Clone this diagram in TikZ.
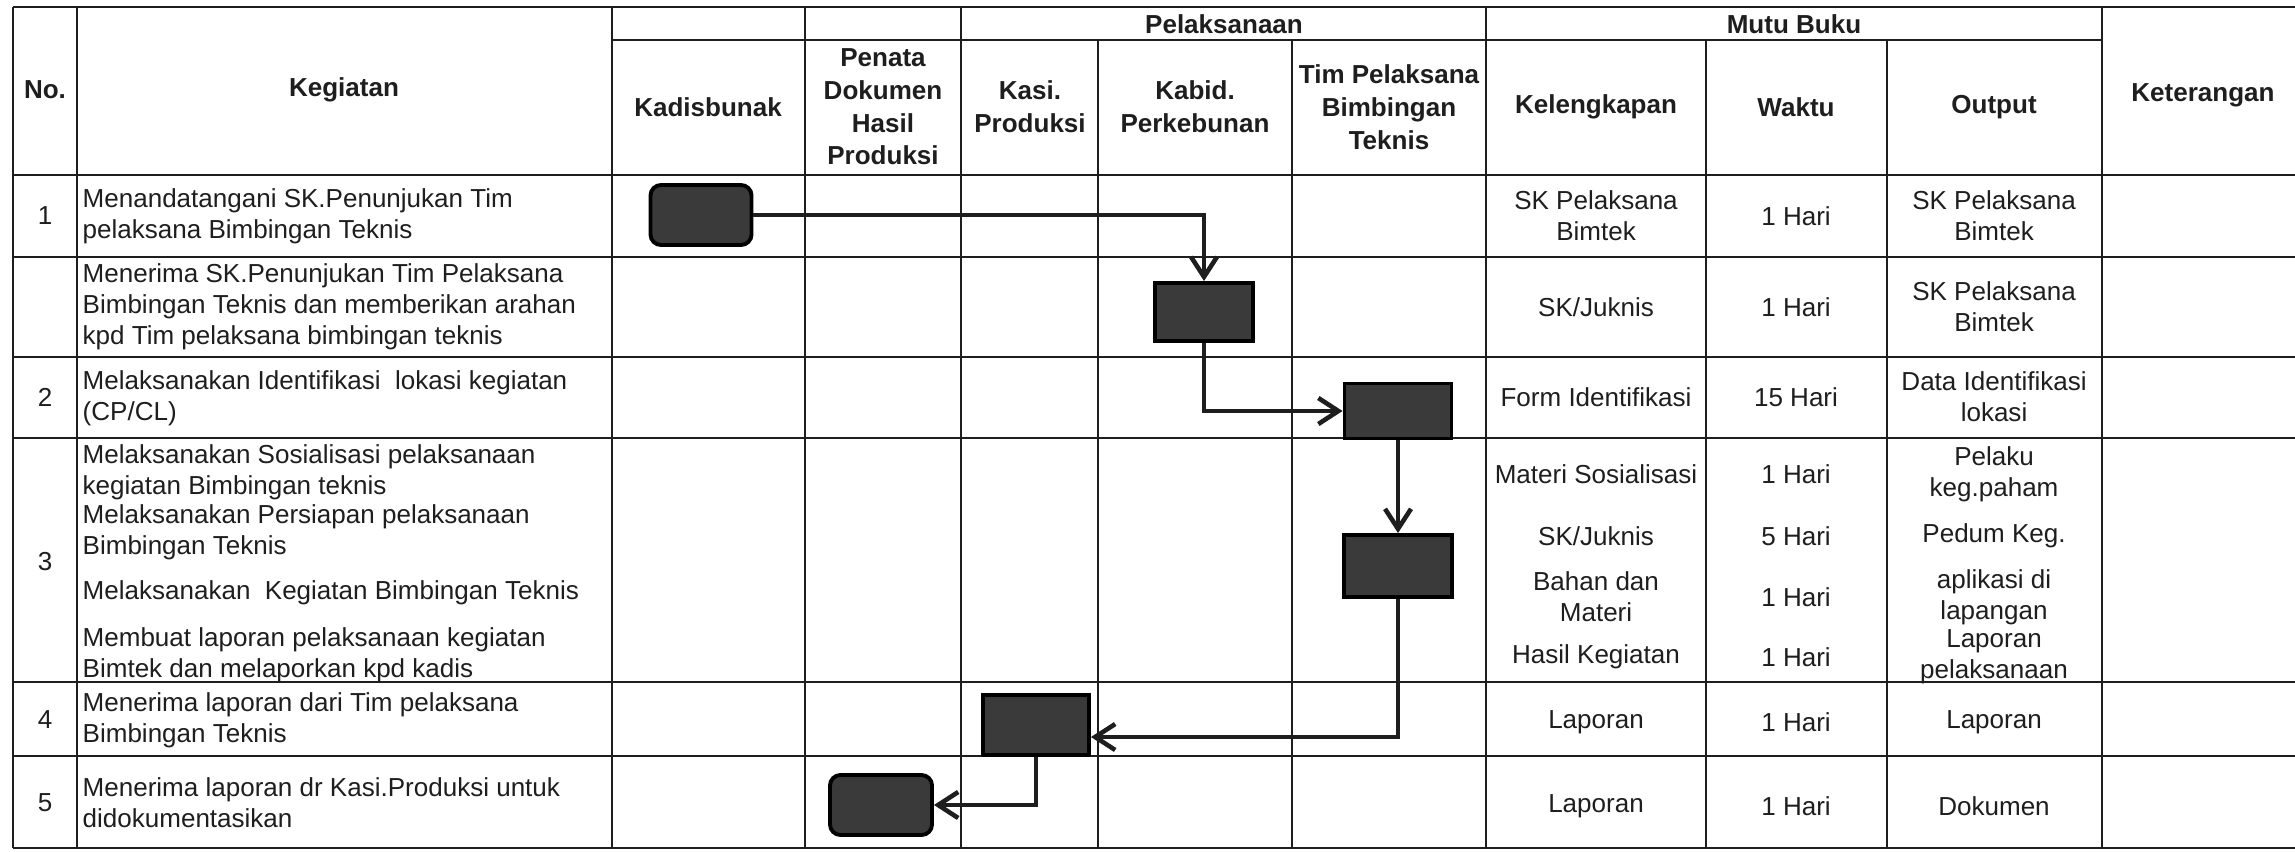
\documentclass[tikz,border=0pt]{standalone}
\usepackage{fontspec}
\setmainfont{Liberation Sans}
\usetikzlibrary{arrows.meta,positioning,calc}
\definecolor{Ink}{HTML}{1E1E1E}
\definecolor{Block}{HTML}{3A3A3A}

\begin{document}
\begin{tikzpicture}[x=0.01cm,y=-0.01cm,
    grid/.style={draw=Ink,line width=0.6pt},
    act/.style={draw=black,fill=Block,line width=1.1pt,inner sep=0pt},
    arr/.style={-{Straight Barb[length=2mm,width=2.6mm]},line width=1.3pt,draw=Ink},
    head/.style={font=\fontsize{7.4}{9.3}\selectfont\bfseries,text=Ink,align=center,inner sep=0pt},
    txt/.style={font=\fontsize{7.4}{8.8}\selectfont,text=Ink,align=center,inner sep=0pt},
    keg/.style={font=\fontsize{7.4}{8.8}\selectfont,text=Ink,align=left,anchor=west,inner sep=0pt}
  ]
    \useasboundingbox[fill=white] (0,0) rectangle (2295,852);
    % table rules
    \foreach \y in {7,175,257,357,438,682,756,848}
      \draw[grid] (13,\y) -- (2295,\y);
    \draw[grid] (612,40) -- (2102,40);
    \foreach \x in {13,77,612,805,961,1486,2102}
      \draw[grid] (\x,7) -- (\x,848);
    \foreach \x in {1098,1292,1706,1887}
      \draw[grid] (\x,40) -- (\x,848);

    % header
    \node[head] (hno) at (45,90) {No.};
    \node[head] (hkeg) at (344,90) {Kegiatan};
    \node[head] (hpel) at (1224,24) {Pelaksanaan};
    \node[head] (hmutu) at (1794,24) {Mutu Buku};
    \node[head] (hket) at (2203,95) {Keterangan};
    \node[head] (hkadis) at (708,107) {Kadisbunak};
    \node[head] (hpenata) at (883,107) {Penata\\Dokumen\\Hasil\\Produksi};
    \node[head] (hkasi) at (1030,107) {Kasi.\\Produksi};
    \node[head] (hkabid) at (1195,107) {Kabid.\\Perkebunan};
    \node[head] (htim) at (1389,107) {Tim Pelaksana\\Bimbingan\\Teknis};
    \node[head] (hkel) at (1596,107) {Kelengkapan};
    \node[head] (hwkt) at (1796,107) {Waktu};
    \node[head] (hout) at (1994,107) {Output};

    % numbers and activities
    \foreach \n/\y in {1/216,2/397,3/562,4/720,5/803}
      \node[txt] (no\n) at (45,\y) {\n};
    \node[keg] (keg1) at (82,216) {Menandatangani SK.Penunjukan Tim\\pelaksana Bimbingan Teknis};
    \node[keg] (keg1b) at (82,307) {Menerima SK.Penunjukan Tim Pelaksana\\Bimbingan Teknis dan memberikan arahan\\kpd Tim pelaksana bimbingan teknis};
    \node[keg] (keg2) at (82,398) {Melaksanakan Identifikasi\ \ lokasi kegiatan\\(CP/CL)};
    \node[keg] (keg3a) at (82,472) {Melaksanakan Sosialisasi pelaksanaan\\kegiatan Bimbingan teknis};
    \node[keg] (keg3b) at (82,532) {Melaksanakan Persiapan pelaksanaan\\Bimbingan Teknis};
    \node[keg] (keg3c) at (82,593) {Melaksanakan\ \ Kegiatan Bimbingan Teknis};
    \node[keg] (keg3d) at (82,655) {Membuat laporan pelaksanaan kegiatan\\Bimtek dan melaporkan kpd kadis};
    \node[keg] (keg4) at (82,720) {Menerima laporan dari Tim pelaksana\\Bimbingan Teknis};
    \node[keg] (keg5) at (82,803) {Menerima laporan dr Kasi.Produksi untuk\\didokumentasikan};

    % mutu buku
    \foreach \y/\kel/\wkt/\out [count=\i] in {
        216/{SK Pelaksana\\Bimtek}/1 Hari/{SK Pelaksana\\Bimtek},
        307/{SK/Juknis}/1 Hari/{SK Pelaksana\\Bimtek},
        397/{Form Identifikasi}/15 Hari/{Data Identifikasi\\lokasi},
        474/{Materi Sosialisasi}/1 Hari/{Pelaku\\keg.paham},
        536/{SK/Juknis}/5 Hari/{Pedum Keg.},
        597/{Bahan dan\\Materi}/1 Hari/{aplikasi di\\lapangan},
        657/{Hasil Kegiatan}/1 Hari/{Laporan\\pelaksanaan},
        722/Laporan/1 Hari/Laporan,
        806/Laporan/1 Hari/Dokumen}{
      \node[txt] (kel\i) at (1596,\y) {\kel};
      \node[txt] (wkt\i) at (1796,\y) {\wkt};
      \node[txt] (out\i) at (1994,\y) {\out};
    }

    % flow
    \node[act,rounded corners=3pt,minimum width=1.01cm,minimum height=0.6cm] (kadis1) at (701,215) {};
    \node[act,minimum width=0.98cm,minimum height=0.58cm] (kabid1) at (1204,312) {};
    \node[act,minimum width=1.07cm,minimum height=0.55cm] (tim2) at (1398,411) {};
    \node[act,minimum width=1.08cm,minimum height=0.62cm] (tim3) at (1398,566) {};
    \node[act,minimum width=1.06cm,minimum height=0.6cm] (kasi4) at (1036,725) {};
    \node[act,rounded corners=3pt,minimum width=1.02cm,minimum height=0.6cm] (penata5) at (881,805) {};
    \coordinate (kasi4in) at ([yshift=-0.12cm]kasi4.east);
    \draw[arr] (kadis1.east) -| (kabid1.north);
    \draw[arr] (kabid1.south) |- (tim2.west);
    \draw[arr] (tim2.south) -- (tim3.north);
    \draw[arr] (tim3.south) |- (kasi4in);
    \draw[arr] (kasi4.south) |- (penata5.east);
\end{tikzpicture}
\end{document}
